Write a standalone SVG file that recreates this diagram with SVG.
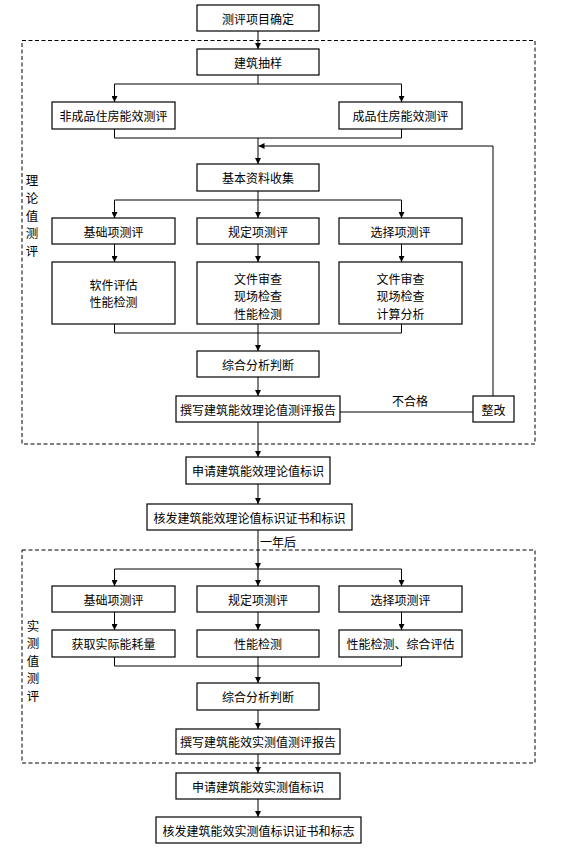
<svg xmlns="http://www.w3.org/2000/svg" width="571" height="856" viewBox="0 0 571 856">
<style>
.bg{fill:#ffffff}
.box{fill:#ffffff;stroke:#000000;stroke-width:1.2}
.ln{fill:none;stroke:#000000;stroke-width:1}
.arr{fill:none;stroke:#000000;stroke-width:1;marker-end:url(#ah)}
.dash{fill:none;stroke:#000000;stroke-width:1;stroke-dasharray:4 2.5}
.t{font-family:"Noto Sans CJK SC","Liberation Sans",sans-serif;font-size:12px;fill:#000000;text-anchor:middle;dominant-baseline:central}
.ts{font-family:"Noto Sans CJK SC","Liberation Sans",sans-serif;font-size:12.5px;fill:#000000;text-anchor:middle;dominant-baseline:central}
.tl{font-family:"Noto Sans CJK SC","Liberation Sans",sans-serif;font-size:12px;fill:#000000;text-anchor:start;dominant-baseline:central}
</style>
<defs>
<marker id="ah" markerUnits="userSpaceOnUse" markerWidth="6" markerHeight="6" refX="6" refY="3" orient="auto">
<path d="M0,0 L6,3 L0,6 z" fill="#000000"/>
</marker>
</defs>
<rect class="bg" x="0" y="0" width="571" height="856"/>

<g id="frames">
<rect class="dash" x="22" y="40.5" width="513" height="403.5"/>
<rect class="dash" x="22" y="550" width="513" height="213"/>
</g>

<g id="connectors">
<line class="arr" x1="258" y1="31" x2="258" y2="49"/>
<polyline class="ln" points="258,75 258,84"/>
<line class="ln" x1="114.5" y1="84" x2="401.5" y2="84"/>
<line class="arr" x1="114.5" y1="84" x2="114.5" y2="102"/>
<line class="arr" x1="401.5" y1="84" x2="401.5" y2="102"/>
<polyline class="ln" points="114.5,129 114.5,138 401.5,138 401.5,129"/>
<line class="arr" x1="258" y1="138" x2="258" y2="164"/>
<polyline class="arr" points="493,396 493,146 258.5,146"/>
<line class="ln" x1="258" y1="191" x2="258" y2="200"/>
<line class="ln" x1="114.5" y1="200" x2="401.5" y2="200"/>
<line class="arr" x1="114.5" y1="200" x2="114.5" y2="218"/>
<line class="arr" x1="258" y1="200" x2="258" y2="218"/>
<line class="arr" x1="401.5" y1="200" x2="401.5" y2="218"/>
<line class="arr" x1="114.5" y1="244" x2="114.5" y2="262"/>
<line class="arr" x1="258" y1="244" x2="258" y2="262"/>
<line class="arr" x1="401.5" y1="244" x2="401.5" y2="262"/>
<polyline class="ln" points="114.5,324 114.5,333 401.5,333 401.5,324"/>
<line class="arr" x1="258" y1="324" x2="258" y2="351"/>
<line class="arr" x1="258" y1="377" x2="258" y2="396"/>
<line class="ln" x1="340" y1="412" x2="473" y2="412"/>
<line class="arr" x1="258" y1="422" x2="258" y2="457"/>
<line class="arr" x1="258" y1="484" x2="258" y2="504"/>
<line class="arr" x1="258" y1="530" x2="258" y2="569"/>
<line class="ln" x1="114.5" y1="569" x2="401.5" y2="569"/>
<line class="arr" x1="114.5" y1="569" x2="114.5" y2="586"/>
<line class="arr" x1="258" y1="569" x2="258" y2="586"/>
<line class="arr" x1="401.5" y1="569" x2="401.5" y2="586"/>
<line class="arr" x1="114.5" y1="612" x2="114.5" y2="630"/>
<line class="arr" x1="258" y1="612" x2="258" y2="630"/>
<line class="arr" x1="401.5" y1="612" x2="401.5" y2="630"/>
<polyline class="ln" points="114.5,657 114.5,666 401.5,666 401.5,657"/>
<line class="arr" x1="258" y1="657" x2="258" y2="683"/>
<line class="arr" x1="258" y1="710" x2="258" y2="729"/>
<line class="arr" x1="258" y1="754" x2="258" y2="773"/>
<line class="arr" x1="258" y1="799" x2="258" y2="817"/>
<text class="t" x="410" y="400">不合格</text>
<text class="tl" x="260" y="541.5">一年后</text>
</g>

<g id="label-theory">
<text class="ts" x="32" y="179.5">理</text>
<text class="ts" x="32" y="197">论</text>
<text class="ts" x="32" y="215">值</text>
<text class="ts" x="32" y="232.5">测</text>
<text class="ts" x="32" y="250">评</text>
</g>
<g id="label-actual">
<text class="ts" x="33" y="625">实</text>
<text class="ts" x="33" y="642.5">测</text>
<text class="ts" x="33" y="660">值</text>
<text class="ts" x="33" y="677.5">测</text>
<text class="ts" x="33" y="695">评</text>
</g>

<g id="n1"><rect class="box" x="197" y="5" width="122" height="26"/><text class="t" x="258" y="18">测评项目确定</text></g>
<g id="n2"><rect class="box" x="197" y="49" width="122" height="26"/><text class="t" x="258" y="62">建筑抽样</text></g>
<g id="n3"><rect class="box" x="52" y="102" width="123" height="27"/><text class="t" x="113.5" y="115.5">非成品住房能效测评</text></g>
<g id="n4"><rect class="box" x="339" y="102" width="123" height="27"/><text class="t" x="400.5" y="115.5">成品住房能效测评</text></g>
<g id="n5"><rect class="box" x="197" y="164" width="122" height="27"/><text class="t" x="258" y="177.5">基本资料收集</text></g>
<g id="n6"><rect class="box" x="52" y="218" width="123" height="26"/><text class="t" x="113.5" y="231">基础项测评</text></g>
<g id="n7"><rect class="box" x="197" y="218" width="122" height="26"/><text class="t" x="258" y="231">规定项测评</text></g>
<g id="n8"><rect class="box" x="339" y="218" width="123" height="26"/><text class="t" x="400.5" y="231">选择项测评</text></g>
<g id="n9"><rect class="box" x="52" y="262" width="123" height="62"/><text class="t" x="113.5" y="284.5">软件评估</text><text class="t" x="113.5" y="301.5">性能检测</text></g>
<g id="n10"><rect class="box" x="197" y="262" width="122" height="62"/><text class="t" x="258" y="278">文件审查</text><text class="t" x="258" y="295.5">现场检查</text><text class="t" x="258" y="313">性能检测</text></g>
<g id="n11"><rect class="box" x="339" y="262" width="123" height="62"/><text class="t" x="400.5" y="278">文件审查</text><text class="t" x="400.5" y="295.5">现场检查</text><text class="t" x="400.5" y="313">计算分析</text></g>
<g id="n12"><rect class="box" x="197" y="351" width="122" height="26"/><text class="t" x="258" y="364">综合分析判断</text></g>
<g id="n13"><rect class="box" x="176" y="396" width="164" height="26"/><text class="t" x="258" y="409">撰写建筑能效理论值测评报告</text></g>
<g id="n14"><rect class="box" x="473" y="396" width="41" height="26"/><text class="t" x="493.5" y="409">整改</text></g>
<g id="n15"><rect class="box" x="186" y="457" width="144" height="27"/><text class="t" x="258" y="470.5">申请建筑能效理论值标识</text></g>
<g id="n16"><rect class="box" x="147" y="504" width="205" height="26"/><text class="t" x="249.5" y="517">核发建筑能效理论值标识证书和标识</text></g>
<g id="n17"><rect class="box" x="52" y="586" width="123" height="26"/><text class="t" x="113.5" y="599">基础项测评</text></g>
<g id="n18"><rect class="box" x="197" y="586" width="122" height="26"/><text class="t" x="258" y="599">规定项测评</text></g>
<g id="n19"><rect class="box" x="339" y="586" width="123" height="26"/><text class="t" x="400.5" y="599">选择项测评</text></g>
<g id="n20"><rect class="box" x="52" y="630" width="123" height="27"/><text class="t" x="113.5" y="643.5">获取实际能耗量</text></g>
<g id="n21"><rect class="box" x="197" y="630" width="122" height="27"/><text class="t" x="258" y="643.5">性能检测</text></g>
<g id="n22"><rect class="box" x="339" y="630" width="123" height="27"/><text class="t" x="400.5" y="643.5">性能检测、综合评估</text></g>
<g id="n23"><rect class="box" x="197" y="683" width="122" height="27"/><text class="t" x="258" y="696.5">综合分析判断</text></g>
<g id="n24"><rect class="box" x="176" y="729" width="164" height="25"/><text class="t" x="258" y="741.5">撰写建筑能效实测值测评报告</text></g>
<g id="n25"><rect class="box" x="176" y="773" width="164" height="26"/><text class="t" x="258" y="786">申请建筑能效实测值标识</text></g>
<g id="n26"><rect class="box" x="156" y="817" width="205" height="26"/><text class="t" x="258.5" y="830">核发建筑能效实测值标识证书和标志</text></g>
</svg>
